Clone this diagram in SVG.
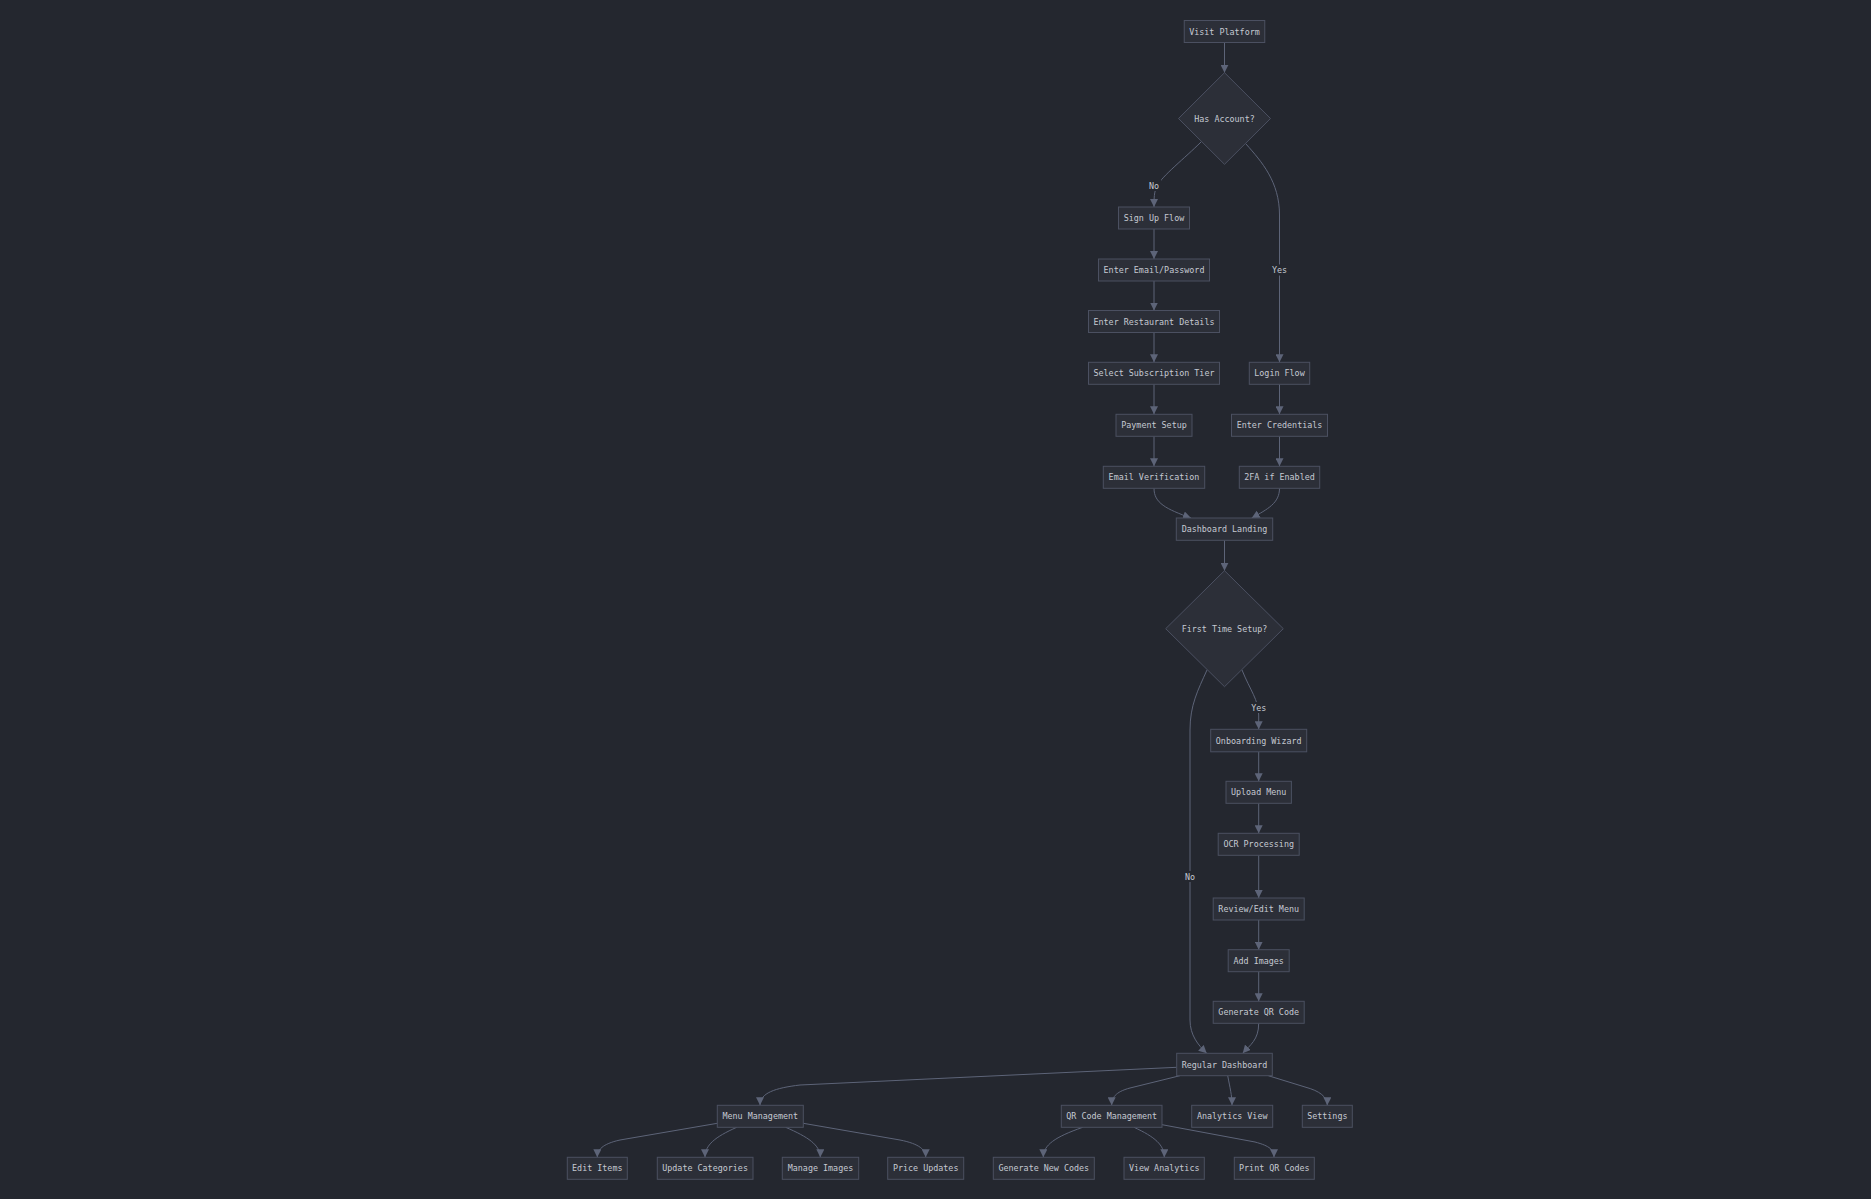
<svg xmlns="http://www.w3.org/2000/svg" width="1871" height="1199" viewBox="0 0 1871 1199">
<style>
.bg{fill:#24272f}
.node rect,.node polygon{fill:#2c2f38;stroke:#4b5061;stroke-width:1}
.node text,.lbl{font-family:"DejaVu Sans Mono","Liberation Mono",monospace;font-size:8.4px;fill:#c5c9d2;text-anchor:middle;dominant-baseline:central}
.edges path{fill:none;stroke:#5d6478;stroke-width:1}
.lblbg{fill:#24272f}
</style>
<defs>
<marker id="ah" viewBox="0 0 10 10" refX="10" refY="5" markerWidth="8" markerHeight="8" markerUnits="userSpaceOnUse" orient="auto">
<path d="M0,0 L10,5 L0,10 z" fill="#5d6478"/>
</marker>
</defs>
<rect class="bg" x="0" y="0" width="1871" height="1199"/>
<g class="edges" marker-end="url(#ah)">
<path d="M1224.5,42.7 L1224.5,72.7" marker-end="url(#ah)"/>
<path d="M1201,142 C1185,158 1162,176 1157,186 C1154,192 1154,198 1154,207" marker-end="url(#ah)"/>
<path d="M1246,144 C1262,162 1279.5,182 1279.5,215 L1279.5,362.3" marker-end="url(#ah)"/>
<path d="M1154,229 L1154,259" marker-end="url(#ah)"/>
<path d="M1154,281 L1154,310.5" marker-end="url(#ah)"/>
<path d="M1154,332.5 L1154,362.3" marker-end="url(#ah)"/>
<path d="M1154,384.3 L1154,414.3" marker-end="url(#ah)"/>
<path d="M1154,436.3 L1154,466.3" marker-end="url(#ah)"/>
<path d="M1279.5,384.3 L1279.5,414.3" marker-end="url(#ah)"/>
<path d="M1279.5,436.3 L1279.5,466.3" marker-end="url(#ah)"/>
<path d="M1154,488.3 C1154,503 1166,509 1191,518" marker-end="url(#ah)"/>
<path d="M1279.5,488.3 C1279.5,503 1268,509 1251.7,518" marker-end="url(#ah)"/>
<path d="M1224.5,540.3 L1224.5,570.7" marker-end="url(#ah)"/>
<path d="M1242,670 C1250,690 1258.7,700 1258.7,715 L1258.7,729.3" marker-end="url(#ah)"/>
<path d="M1207,670 C1198,690 1190,705 1190,730 L1190,1020 C1190,1035 1198,1045 1206.7,1053.3" marker-end="url(#ah)"/>
<path d="M1258.7,751.8 L1258.7,781.3" marker-end="url(#ah)"/>
<path d="M1258.7,803.3 L1258.7,833.3" marker-end="url(#ah)"/>
<path d="M1258.7,855.3 L1258.7,898" marker-end="url(#ah)"/>
<path d="M1258.7,920 L1258.7,949.7" marker-end="url(#ah)"/>
<path d="M1258.7,971.7 L1258.7,1001.3" marker-end="url(#ah)"/>
<path d="M1258.7,1023.3 C1258.7,1040 1250,1045 1242.7,1053.3" marker-end="url(#ah)"/>
<path d="M1176.7,1067.3 L800,1085 C775,1088 760,1093 760,1105.3" marker-end="url(#ah)"/>
<path d="M1180,1075.7 L1130,1088 C1115,1092 1111.7,1098 1111.7,1105.3" marker-end="url(#ah)"/>
<path d="M1227.7,1075.7 C1230,1088 1232,1095 1232,1105.3" marker-end="url(#ah)"/>
<path d="M1268.3,1075.7 L1305,1087 C1320,1091 1327.3,1097 1327.3,1105.3" marker-end="url(#ah)"/>
<path d="M717.3,1123.3 L620,1140 C602,1144 597.3,1150 597.3,1157.3" marker-end="url(#ah)"/>
<path d="M736.7,1127.3 C715,1137 705,1145 705,1157.3" marker-end="url(#ah)"/>
<path d="M785.7,1127.3 C808,1137 820.3,1145 820.3,1157.3" marker-end="url(#ah)"/>
<path d="M803.3,1123.3 L900,1140 C920,1144 925.7,1150 925.7,1157.3" marker-end="url(#ah)"/>
<path d="M1082.7,1127.3 C1055,1137 1043.3,1145 1043.3,1157.3" marker-end="url(#ah)"/>
<path d="M1134,1127.3 C1155,1137 1164.3,1145 1164.3,1157.3" marker-end="url(#ah)"/>
<path d="M1162,1124.7 L1255,1142 C1270,1146 1274,1150 1274,1157.3" marker-end="url(#ah)"/>
</g>
<g id="edge-labels">
<rect class="lblbg" x="1147" y="180" width="14" height="11"/>
<text class="lbl" x="1154" y="185.7">No</text>
<rect class="lblbg" x="1269" y="264.5" width="21" height="11"/>
<text class="lbl" x="1279.5" y="270">Yes</text>
<rect class="lblbg" x="1248" y="702" width="21" height="11"/>
<text class="lbl" x="1258.7" y="707.7">Yes</text>
<rect class="lblbg" x="1183" y="871" width="14" height="11"/>
<text class="lbl" x="1190" y="876.7">No</text>
</g>
<g id="visit" class="node"><rect x="1184.25" y="20.5" width="80.5" height="22"/><text x="1224.5" y="31.5">Visit Platform</text></g>
<g id="hasacc" class="node"><polygon points="1224.5,72.7 1270.5,118.5 1224.5,164.3 1178.5,118.5"/><text x="1224.5" y="118.5">Has Account?</text></g>
<g id="signup" class="node"><rect x="1118.5" y="207" width="71" height="22"/><text x="1154" y="218">Sign Up Flow</text></g>
<g id="email" class="node"><rect x="1098.5" y="259" width="111" height="22"/><text x="1154" y="270">Enter Email/Password</text></g>
<g id="rest" class="node"><rect x="1088.5" y="310.5" width="131" height="22"/><text x="1154" y="321.5">Enter Restaurant Details</text></g>
<g id="tier" class="node"><rect x="1088.5" y="362.3" width="131" height="22"/><text x="1154" y="373.3">Select Subscription Tier</text></g>
<g id="pay" class="node"><rect x="1116" y="414.3" width="76" height="22"/><text x="1154" y="425.3">Payment Setup</text></g>
<g id="ever" class="node"><rect x="1103.3" y="466.3" width="101.4" height="22"/><text x="1154" y="477.3">Email Verification</text></g>
<g id="login" class="node"><rect x="1249.3" y="362.3" width="60.4" height="22"/><text x="1279.5" y="373.3">Login Flow</text></g>
<g id="cred" class="node"><rect x="1231.5" y="414.3" width="96" height="22"/><text x="1279.5" y="425.3">Enter Credentials</text></g>
<g id="twofa" class="node"><rect x="1239.3" y="466.3" width="80.4" height="22"/><text x="1279.5" y="477.3">2FA if Enabled</text></g>
<g id="dland" class="node"><rect x="1176.3" y="518" width="96.4" height="22.3"/><text x="1224.5" y="529.2">Dashboard Landing</text></g>
<g id="fts" class="node"><polygon points="1224.5,570.7 1283.3,628.7 1224.5,686.7 1165.7,628.7"/><text x="1224.5" y="628.5">First Time Setup?</text></g>
<g id="onb" class="node"><rect x="1210.7" y="729.3" width="96" height="22.5"/><text x="1258.7" y="740.5">Onboarding Wizard</text></g>
<g id="upl" class="node"><rect x="1226" y="781.3" width="65.4" height="22"/><text x="1258.7" y="792.3">Upload Menu</text></g>
<g id="ocr" class="node"><rect x="1218.2" y="833.3" width="81" height="22"/><text x="1258.7" y="844.3">OCR Processing</text></g>
<g id="rev" class="node"><rect x="1213.2" y="898" width="91" height="22"/><text x="1258.7" y="909">Review/Edit Menu</text></g>
<g id="addimg" class="node"><rect x="1228.2" y="949.7" width="61" height="22"/><text x="1258.7" y="960.7">Add Images</text></g>
<g id="genqr" class="node"><rect x="1213.2" y="1001.3" width="91" height="22"/><text x="1258.7" y="1012.3">Generate QR Code</text></g>
<g id="regdash" class="node"><rect x="1176.7" y="1053.3" width="95.6" height="22.4"/><text x="1224.5" y="1064.5">Regular Dashboard</text></g>
<g id="menumgmt" class="node"><rect x="717.3" y="1105.3" width="86" height="22"/><text x="760.3" y="1116.3">Menu Management</text></g>
<g id="qrmgmt" class="node"><rect x="1061.3" y="1105.3" width="100.7" height="22"/><text x="1111.7" y="1116.3">QR Code Management</text></g>
<g id="anview" class="node"><rect x="1191.7" y="1105.3" width="81" height="22"/><text x="1232.2" y="1116.3">Analytics View</text></g>
<g id="settings" class="node"><rect x="1302.3" y="1105.3" width="50" height="22"/><text x="1327.3" y="1116.3">Settings</text></g>
<g id="edititems" class="node"><rect x="567.3" y="1157.3" width="60" height="22"/><text x="597.3" y="1168.3">Edit Items</text></g>
<g id="updcat" class="node"><rect x="657.3" y="1157.3" width="95.7" height="22"/><text x="705.1" y="1168.3">Update Categories</text></g>
<g id="manimg" class="node"><rect x="782.3" y="1157.3" width="76.4" height="22"/><text x="820.5" y="1168.3">Manage Images</text></g>
<g id="price" class="node"><rect x="887.7" y="1157.3" width="76" height="22"/><text x="925.7" y="1168.3">Price Updates</text></g>
<g id="gennew" class="node"><rect x="993.3" y="1157.3" width="101" height="22"/><text x="1043.8" y="1168.3">Generate New Codes</text></g>
<g id="viewan" class="node"><rect x="1124" y="1157.3" width="80.3" height="22"/><text x="1164.2" y="1168.3">View Analytics</text></g>
<g id="printqr" class="node"><rect x="1234.3" y="1157.3" width="80" height="22"/><text x="1274.3" y="1168.3">Print QR Codes</text></g>
</svg>
